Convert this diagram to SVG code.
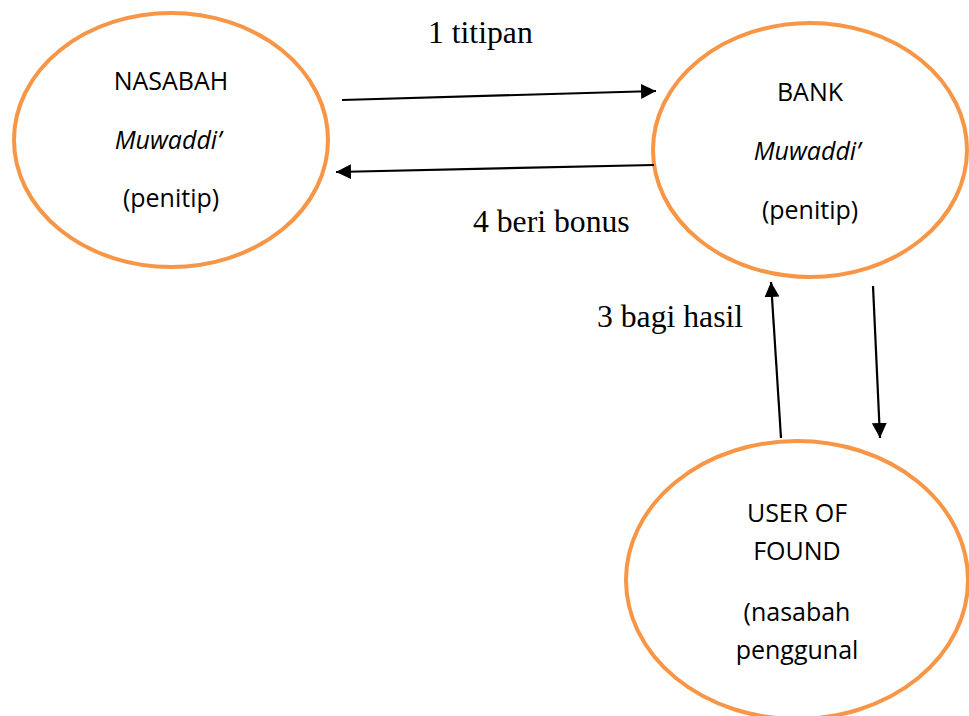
<svg xmlns="http://www.w3.org/2000/svg" width="969" height="716" viewBox="0 0 969 716">
<style>
.node{fill:#fff;stroke:#F79646;stroke-width:4}
.t{font-family:"Open Sans","Liberation Sans",sans-serif;font-size:25px;fill:#000;text-anchor:middle}
.i{font-style:italic}
.lbl{font-family:"Liberation Serif","Times New Roman",serif;font-size:31.7px;fill:#000}
.c{stroke:#000;stroke-width:2.2;fill:none;marker-end:url(#ah)}
</style>
<defs>
<marker id="ah" markerUnits="userSpaceOnUse" markerWidth="16" markerHeight="16" viewBox="0 0 16 16" refX="15" refY="7.5" orient="auto">
<path d="M0,0 L15,7.5 L0,15 z" fill="#000"/>
</marker>
</defs>
<rect width="969" height="716" fill="#fff"/>
<g id="nasabah">
<ellipse class="node" cx="171" cy="140" rx="157" ry="127"/>
<text class="t" x="171" y="90">NASABAH</text>
<text class="t i" x="168" y="149">Muwaddi’</text>
<text class="t" x="171" y="207">(penitip)</text>
</g>
<g id="bank">
<ellipse class="node" cx="810" cy="150" rx="157" ry="127"/>
<text class="t" x="810" y="101">BANK</text>
<text class="t i" x="807" y="160">Muwaddi’</text>
<text class="t" x="810" y="219">(penitip)</text>
</g>
<g id="user">
<ellipse class="node" cx="797" cy="580" rx="171" ry="139"/>
<text class="t" x="797" y="522">USER OF</text>
<text class="t" x="797" y="560">FOUND</text>
<text class="t" x="797" y="621">(nasabah</text>
<text class="t" x="797" y="659">penggunal</text>
</g>
<g id="connectors">
<line class="c" x1="342" y1="100" x2="656" y2="91"/>
<line class="c" x1="654" y1="165" x2="336" y2="172"/>
<line class="c" x1="781" y1="438" x2="771" y2="282"/>
<line class="c" x1="873" y1="286" x2="880" y2="438"/>
</g>
<g id="labels">
<text class="lbl" x="428" y="43">1 titipan</text>
<text class="lbl" x="473" y="232">4 beri bonus</text>
<text class="lbl" x="597" y="327">3 bagi hasil</text>
</g>
</svg>
